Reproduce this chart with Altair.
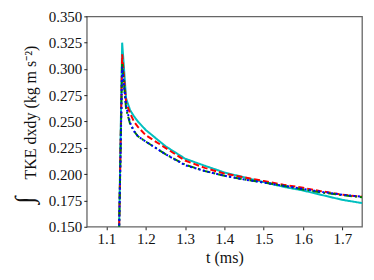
import altair as alt
import pandas as pd

t = [1.13, 1.14, 1.15, 1.16, 1.17, 1.18, 1.20, 1.25, 1.30, 1.35, 1.40, 1.45, 1.50, 1.55, 1.60, 1.65, 1.70, 1.75]
cyan = [0.100, 0.325, 0.272, 0.261, 0.255, 0.250, 0.242, 0.2266, 0.2147, 0.208, 0.2016, 0.197, 0.1925, 0.188, 0.1845, 0.180, 0.1756, 0.1725]
red = [0.100, 0.314, 0.268, 0.258, 0.250, 0.245, 0.237, 0.225, 0.213, 0.206, 0.2005, 0.197, 0.1935, 0.190, 0.187, 0.1835, 0.1805, 0.1785]
green = [0.100, 0.306, 0.262, 0.248, 0.241, 0.236, 0.231, 0.219, 0.209, 0.203, 0.1985, 0.195, 0.192, 0.189, 0.1855, 0.1825, 0.180, 0.178]
blue = [0.100, 0.302, 0.265, 0.249, 0.241, 0.236, 0.231, 0.219, 0.2085, 0.203, 0.1985, 0.195, 0.192, 0.189, 0.186, 0.183, 0.1805, 0.1785]

series_names = ["1", "2", "3", "4"]
series_colors = ["#00BFBF", "#FF0000", "#008000", "#0000FF"]
series_dash = [[1, 0], [6, 3], [8, 3, 2, 3], [2, 2.5]]

rows = []
for name, vals in zip(series_names, [cyan, red, green, blue]):
    for tt, v in zip(t, vals):
        rows.append({"t": tt, "v": v, "s": name})
df = pd.DataFrame(rows)

xticks = [1.1, 1.2, 1.3, 1.4, 1.5, 1.6, 1.7]
yticks = [0.150, 0.175, 0.200, 0.225, 0.250, 0.275, 0.300, 0.325, 0.350]

lines = alt.Chart(df).mark_line(clip=True, strokeWidth=2).encode(
    x=alt.X("t:Q", scale=alt.Scale(domain=[1.05, 1.75], nice=False, zero=False),
            axis=alt.Axis(values=xticks, format=".1f", title="t (ms)")),
    y=alt.Y("v:Q", scale=alt.Scale(domain=[0.15, 0.35], nice=False, zero=False),
            axis=alt.Axis(values=yticks, format=".3f", title="TKE dxdy (kg m s⁻²)", titleY=96)),
    color=alt.Color("s:N", scale=alt.Scale(domain=series_names, range=series_colors), legend=None),
    strokeDash=alt.StrokeDash("s:N", scale=alt.Scale(domain=series_names, range=series_dash), legend=None),
    order=alt.Order("s:N"),
)

integral = alt.Chart(pd.DataFrame({"sym": ["∫"]})).mark_text(
    font="Liberation Serif", fontSize=26, angle=270, color="#111111",
    align="center", baseline="middle", fontStyle="italic"
).encode(text="sym:N", x=alt.value(-62), y=alt.value(184))

chart = alt.layer(lines, integral).properties(
    width=276, height=211,
    autosize=alt.AutoSizeParams(type="none"),
    padding={"left": 79, "top": 8, "right": 4, "bottom": 50},
).configure_view(
    stroke="#666666", strokeWidth=1.3
).configure_axis(
    domain=False, grid=False, tickColor="#222222", tickSize=3,
    labelFont="Liberation Serif", labelFontSize=15, labelColor="#111111",
    titleFont="Liberation Serif", titleFontSize=16, titleFontWeight="normal", titleColor="#111111",
    labelPadding=2,
).configure_axisY(titlePadding=10).configure_axisX(titlePadding=3)

chart.save("out.html", embed_options={"renderer": "svg", "actions": False})
